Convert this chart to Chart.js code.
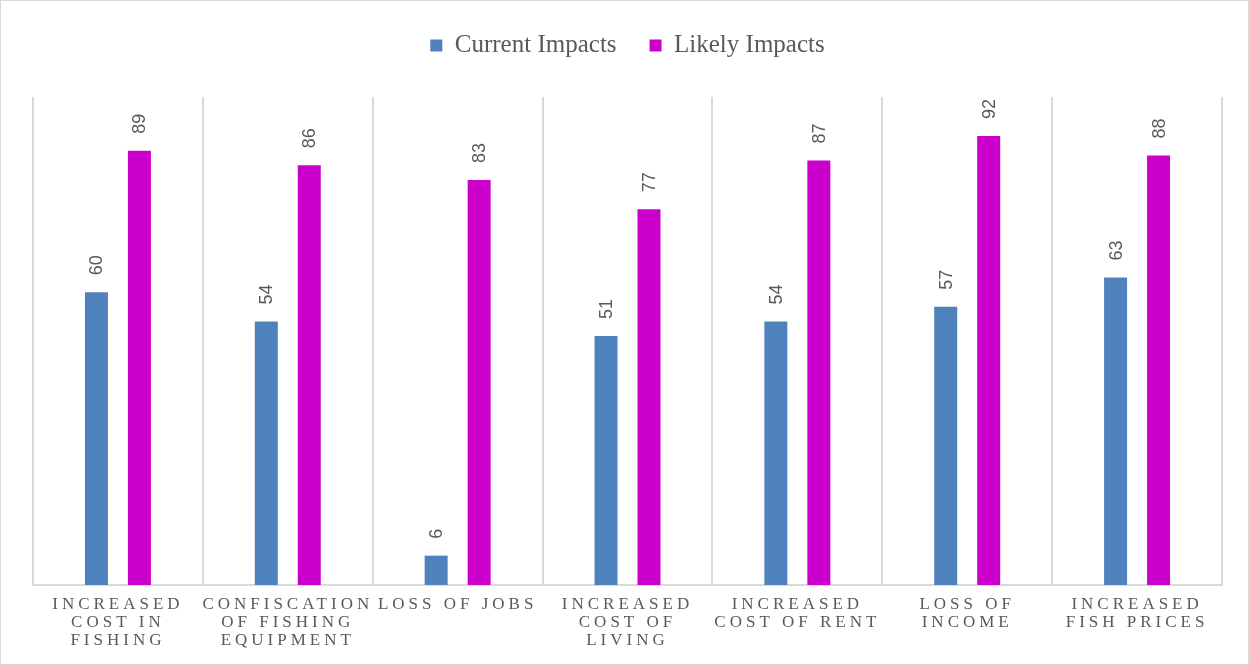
<!DOCTYPE html>
<html>
<head>
<meta charset="utf-8">
<script src="https://cdn.jsdelivr.net/npm/chart.js@4"></script>
<style>
  html, body { margin: 0; padding: 0; background: #fff; }
  canvas { display: block; }
</style>
</head>
<body>
<canvas id="impactChart" width="1249" height="665"></canvas>
<script>
const categories = [
  ['INCREASED', 'COST IN', 'FISHING'],
  ['CONFISCATION', 'OF FISHING', 'EQUIPMENT'],
  ['LOSS OF JOBS'],
  ['INCREASED', 'COST OF', 'LIVING'],
  ['INCREASED', 'COST OF RENT'],
  ['LOSS OF', 'INCOME'],
  ['INCREASED', 'FISH PRICES']
];
const currentImpacts = [60, 54, 6, 51, 54, 57, 63];
const likelyImpacts = [89, 86, 83, 77, 87, 92, 88];

const grey = '#595959';

// white background + frame, rotated value labels, letter spacing for x labels
const valueLabels = {
  id: 'valueLabels',
  beforeDraw(chart) {
    const c = chart.ctx;
    c.save();
    c.fillStyle = '#fff';
    c.fillRect(0, 0, chart.width, chart.height);
    c.strokeStyle = '#d9d9d9';
    c.lineWidth = 1;
    c.strokeRect(0.5, 0.5, chart.width - 1, chart.height - 1);
    c.restore();
  },
  afterDatasetsDraw(chart) {
    const c = chart.ctx;
    c.save();
    c.font = '18px "Liberation Sans", Arial, sans-serif';
    c.fillStyle = grey;
    c.textAlign = 'left';
    c.textBaseline = 'middle';
    chart.data.datasets.forEach((ds, i) => {
      chart.getDatasetMeta(i).data.forEach((bar, j) => {
        c.save();
        c.translate(bar.x + 1, bar.y - 17);
        c.rotate(-Math.PI / 2);
        c.fillText(String(ds.data[j]), 0, 0);
        c.restore();
      });
    });
    c.restore();
    c.letterSpacing = '4px';
  },
  afterDraw(chart) {
    chart.ctx.letterSpacing = '0px';
  }
};

new Chart(document.getElementById('impactChart'), {
  type: 'bar',
  data: {
    labels: categories,
    datasets: [{
      label: 'Current Impacts',
      data: currentImpacts,
      backgroundColor: '#4F81BD',
      categoryPercentage: 0.506,
      barPercentage: 0.535
    }, {
      label: 'Likely Impacts',
      data: likelyImpacts,
      backgroundColor: '#CC00CC',
      categoryPercentage: 0.506,
      barPercentage: 0.535
    }]
  },
  options: {
    responsive: false,
    animation: false,
    layout: { padding: { left: 33, right: 27, top: 0, bottom: 4 } },
    plugins: {
      tooltip: { enabled: false },
      legend: {
        position: 'top',
        labels: {
          boxWidth: 12,
          boxHeight: 12,
          padding: 33,
          color: grey,
          font: { family: '"Liberation Serif", "DejaVu Serif", serif', size: 25 }
        }
      }
    },
    scales: {
      x: {
        grid: { color: '#d9d9d9', lineWidth: 2, offset: true, drawTicks: false },
        border: { color: '#d9d9d9', width: 2 },
        ticks: {
          z: 1,
          color: grey,
          padding: 11,
          maxRotation: 0,
          minRotation: 0,
          autoSkip: false,
          font: { family: '"Liberation Serif", "DejaVu Serif", serif', size: 17, lineHeight: 1.06 }
        }
      },
      // empty spacer between legend and plot
      gap: {
        type: 'linear',
        position: 'top',
        grid: { display: false, drawTicks: false },
        border: { display: false },
        ticks: { display: false },
        afterFit(scale) { scale.height = 29; }
      },
      y: { display: false, min: 0, max: 100 }
    }
  },
  plugins: [valueLabels]
});
</script>
</body>
</html>
